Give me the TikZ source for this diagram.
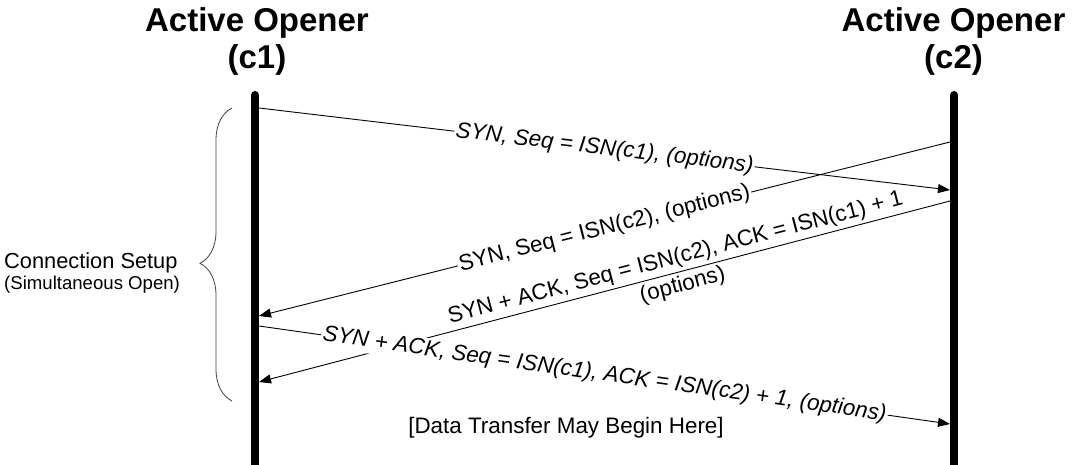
\documentclass[tikz,border=0pt]{standalone}
\usepackage{fontspec}
\setmainfont{Liberation Sans}
\usetikzlibrary{arrows.meta,decorations.pathreplacing}
\begin{document}
\begin{tikzpicture}[x=1pt,y=-1pt,
  title/.style={font=\fontsize{33}{37}\selectfont\bfseries, inner sep=0pt, anchor=base},
  life/.style={line width=8pt, line cap=round},
  msg/.style={line width=0.9pt, -{Triangle[length=12pt,width=9pt]}},
  lbl/.style={font=\fontsize{22.4}{28}\selectfont, inner sep=1.5pt, sloped},
  lbli/.style={font=\fontsize{22.4}{28}\selectfont\itshape, inner sep=1.5pt, sloped},
  plain/.style={font=\fontsize{22.4}{26}\selectfont, inner sep=0pt},
  bracestyle/.style={line width=0.8pt, draw=black!75, decorate, decoration={brace, amplitude=32pt, aspect=0.47}},
]
\useasboundingbox (0,0) rectangle (1074,465);

% titles
\node[title] (t1a) at (257,32) {Active Opener};
\node[title] (t1b) at (257,69) {(c1)};
\node[title] (t2a) at (953.5,32) {Active Opener};
\node[title] (t2b) at (953.5,69) {(c2)};

% lifelines
\coordinate (c1top) at (255,95);
\coordinate (c1bot) at (255,472);
\coordinate (c2top) at (954,95);
\coordinate (c2bot) at (954,472);
\draw[life] (c1top) -- (c1bot);
\draw[life] (c2top) -- (c2bot);

% message end points
\coordinate (a1) at (259,108);
\coordinate (b1) at (950,190);
\coordinate (b2) at (950,142);
\coordinate (a2) at (259,316);
\coordinate (b3) at (950,201);
\coordinate (a3) at (259,382);
\coordinate (a4) at (259,326);
\coordinate (b4) at (950,424);

\draw[msg] (a1) -- node[lbli, fill=white, pos=0.5] (l1) {SYN, Seq = ISN(c1), (options)} (b1);
\draw[msg] (b2) -- node[lbl, fill=white, pos=0.5] (l2) {SYN, Seq = ISN(c2), (options)} (a2);
\draw[msg] (b3) -- node[lbl, pos=0.392, align=center] (l3) {SYN + ACK, Seq = ISN(c2), ACK = ISN(c1) + 1\\(options)} (a3);
\draw[msg] (a4) -- node[lbli, fill=white, pos=0.5] (l4) {SYN + ACK, Seq = ISN(c1), ACK = ISN(c2) + 1, (options)} (b4);

\node[plain, anchor=base] (dt) at (566,433) {[Data Transfer May Begin Here]};

% connection setup brace and text
\coordinate (brb) at (232,401);
\coordinate (brt) at (232,108);
\draw[bracestyle] (brb) -- (brt);
\node[anchor=base west, inner sep=0pt, font=\fontsize{21.8}{26}\selectfont] (cs) at (4,269) {Connection Setup};
\node[anchor=base west, inner sep=0pt, font=\fontsize{18.6}{22}\selectfont] (so) at (4,289) {(Simultaneous Open)};
\end{tikzpicture}
\end{document}
